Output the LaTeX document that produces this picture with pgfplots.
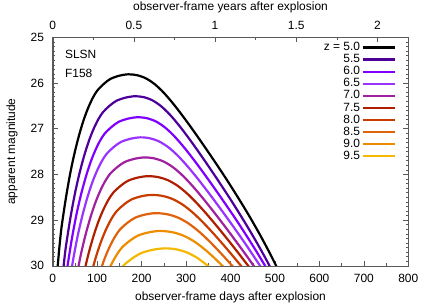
\documentclass[border=0pt]{standalone}
\usepackage{fontspec}
\setmainfont{Liberation Sans}
\usepackage{pgfplots}
\pgfplotsset{compat=1.18}
\definecolor{c0}{HTML}{000000}
\definecolor{c1}{HTML}{4C0099}
\definecolor{c2}{HTML}{7F00FF}
\definecolor{c3}{HTML}{9933FF}
\definecolor{c4}{HTML}{A0209F}
\definecolor{c5}{HTML}{B01E00}
\definecolor{c6}{HTML}{C83C00}
\definecolor{c7}{HTML}{E0620A}
\definecolor{c8}{HTML}{EE8C00}
\definecolor{c9}{HTML}{F5B800}
\begin{document}
\begin{tikzpicture}[font=\fontsize{12}{14}\selectfont]
\path[use as bounding box] (-52.7bp,-39.3bp) rectangle (383.3bp,265.7bp);
\begin{axis}[at={(0,0)}, anchor=south west, scale only axis,
  width=355.6bp, height=228.4bp,
  xmin=0, xmax=800, ymin=25, ymax=30, y dir=reverse,
  xtick={0,100,...,800}, ytick={25,26,...,30},
  minor x tick num=1, minor y tick num=9,
  xtick pos=bottom, tick align=inside,
  major tick length=5bp, minor tick length=2.5bp,
  axis line style={black!65}, every tick/.style={black!65},
  /pgf/number format/assume math mode=true,
  xticklabel style={anchor=center, inner sep=0pt, yshift=-12.6bp},
  yticklabel style={anchor=east, inner sep=0pt, xshift=-8.5bp},
  xlabel={observer-frame days after explosion},
  ylabel={apparent magnitude},
  xlabel style={at={(axis description cs:0.5,0)}, anchor=center, yshift=-31.3bp},
  ylabel style={at={(axis description cs:0,0.5)}, anchor=center, yshift=40.7bp},
  legend plot pos=right, legend cell align=right,
  legend image code/.code={\draw[#1, line width=2.2bp] (0bp,0bp) -- (32bp,0bp);},
  legend style={at={(1,1)}, anchor=north east, xshift=-9.5bp, yshift=-2bp,
    draw=none, fill=none, row sep=0pt,
    nodes={text height=8pt, text depth=1.5pt, inner sep=1.3pt}},
  every axis plot/.append style={line width=2.2bp, smooth},
  clip=true]
\addplot[c0] coordinates {(10,30.15)(15,29.60)(20,29.15)(30,28.50)(40,27.95)(50,27.50)(60,27.12)(70,26.80)(80,26.54)(90,26.33)(100,26.17)(115,26.02)(130,25.91)(150,25.84)(170,25.81)(190,25.83)(210,25.90)(230,26.03)(250,26.215)(270,26.44)(290,26.69)(310,26.955)(330,27.23)(350,27.512)(370,27.80)(390,28.094)(410,28.40)(430,28.714)(450,29.042)(470,29.388)(490,29.756)(510,30.146)};
\addlegendentry{z = 5.0}
\addplot[c1] coordinates {(23.8,30.08)(29,29.63)(39.4,28.98)(49.8,28.43)(60.2,27.98)(70.6,27.60)(81,27.28)(91.4,27.02)(101.8,26.81)(112.2,26.65)(127.8,26.50)(143.4,26.39)(164.2,26.32)(185,26.29)(204.7,26.31)(224.4,26.38)(244.1,26.51)(263.8,26.695)(283.5,26.92)(303.2,27.17)(322.9,27.435)(342.6,27.71)(362.3,27.992)(382,28.28)(401.7,28.574)(421.4,28.88)(441.1,29.194)(460.8,29.522)(480.5,29.868)(500.2,30.236)};
\addlegendentry{5.5}
\addplot[c2] coordinates {(32,30.09)(42.6,29.44)(53.2,28.89)(63.8,28.44)(74.4,28.06)(85,27.74)(95.6,27.48)(106.2,27.27)(116.8,27.11)(132.7,26.96)(148.6,26.85)(169.8,26.78)(191,26.75)(211.4,26.77)(231.8,26.84)(252.2,26.97)(272.6,27.155)(293,27.38)(313.4,27.63)(333.8,27.895)(354.2,28.17)(374.6,28.452)(395,28.74)(415.4,29.034)(435.8,29.34)(456.2,29.654)(476.6,29.982)(497,30.328)};
\addlegendentry{6.0}
\addplot[c3] coordinates {(35,30.53)(45.8,29.88)(56.6,29.33)(67.4,28.88)(78.2,28.50)(89,28.18)(99.8,27.92)(110.6,27.71)(121.4,27.55)(137.6,27.40)(153.8,27.29)(175.4,27.22)(197,27.19)(218.2,27.21)(239.4,27.28)(260.6,27.41)(281.8,27.595)(303,27.82)(324.2,28.07)(345.4,28.335)(366.6,28.61)(387.8,28.892)(409,29.18)(430.2,29.474)(451.4,29.78)(472.6,30.094)};
\addlegendentry{6.5}
\addplot[c4] coordinates {(52,30.32)(63,29.77)(74,29.32)(85,28.94)(96,28.62)(107,28.36)(118,28.15)(129,27.99)(145.5,27.84)(162,27.73)(184,27.66)(206,27.63)(227.8,27.65)(249.6,27.72)(271.4,27.85)(293.2,28.035)(315,28.26)(336.8,28.51)(358.6,28.775)(380.4,29.05)(402.2,29.332)(424,29.62)(445.8,29.914)(467.6,30.22)};
\addlegendentry{7.0}
\addplot[c5] coordinates {(69.7,30.18)(80.8,29.73)(91.9,29.35)(103,29.03)(114.1,28.77)(125.2,28.56)(136.3,28.40)(153,28.25)(169.6,28.14)(191.8,28.07)(214,28.04)(236.8,28.06)(259.6,28.13)(282.4,28.26)(305.2,28.445)(328,28.67)(350.8,28.92)(373.6,29.185)(396.4,29.46)(419.2,29.742)(442,30.03)};
\addlegendentry{7.5}
\addplot[c6] coordinates {(87.6,30.14)(98.8,29.76)(110,29.44)(121.2,29.18)(132.4,28.97)(143.6,28.81)(160.4,28.66)(177.2,28.55)(199.6,28.48)(222,28.45)(245.8,28.47)(269.6,28.54)(293.4,28.67)(317.2,28.855)(341,29.08)(364.8,29.33)(388.6,29.595)(412.4,29.87)(436.2,30.152)};
\addlegendentry{8.0}
\addplot[c7] coordinates {(105.6,30.16)(117,29.84)(128.4,29.58)(139.8,29.37)(151.2,29.21)(168.3,29.06)(185.4,28.95)(208.2,28.88)(231,28.85)(255.6,28.87)(280.2,28.94)(304.8,29.07)(329.4,29.255)(354,29.48)(378.6,29.73)(403.2,29.995)(427.8,30.27)};
\addlegendentry{8.5}
\addplot[c8] coordinates {(120,30.23)(132,29.97)(144,29.76)(156,29.60)(174,29.45)(192,29.34)(216,29.27)(240,29.24)(265.6,29.26)(291.2,29.33)(316.8,29.46)(342.4,29.645)(368,29.87)(393.6,30.12)};
\addlegendentry{9.0}
\addplot[c9] coordinates {(148,30.14)(161,29.98)(180.5,29.83)(200,29.72)(226,29.65)(252,29.62)(277,29.64)(302,29.71)(327,29.84)(352,30.025)};
\addlegendentry{9.5}
\node[anchor=west] at (axis cs:20,25.37) {SLSN};
\node[anchor=west] at (axis cs:20,25.78) {F158};
\end{axis}
\begin{axis}[at={(0,0)}, anchor=south west, scale only axis,
  width=355.6bp, height=228.4bp,
  xmin=0, xmax=2.19028, ymin=0, ymax=1,
  ytick=\empty, xtick pos=upper, xticklabel pos=upper,
  xtick={0,0.5,1,1.5,2}, minor x tick num=1, tick align=inside,
  major tick length=5bp, minor tick length=2.5bp,
  axis line style={black!65}, every tick/.style={black!65},
  /pgf/number format/assume math mode=true,
  xticklabel shift=7.7bp,
  xticklabel style={anchor=south, inner sep=0pt},
  xlabel={observer-frame years after explosion},
  xlabel style={at={(axis description cs:0.5,1)}, anchor=center, yshift=29.8bp}]
\addplot[draw=none] coordinates {(0,0)};
\end{axis}
\end{tikzpicture}
\end{document}
